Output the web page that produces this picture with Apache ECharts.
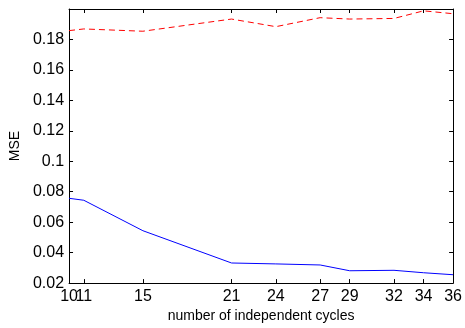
<!DOCTYPE html>
<html>
<head>
<meta charset="utf-8">
<script src="https://cdn.jsdelivr.net/npm/echarts@6/dist/echarts.min.js"></script>
<style>
  html, body { margin: 0; padding: 0; background: #fff; }
  #chart { width: 465px; height: 328px; }
</style>
</head>
<body>
<div id="chart"></div>
<script>
// values
const cycles = [10, 11, 15, 21, 24, 27, 29, 32, 34, 36];
const mseRed = [0.1858, 0.1869, 0.1854, 0.1934, 0.1884, 0.1943, 0.1934, 0.1938, 0.1988, 0.1969];
const mseBlue = [0.0757, 0.0744, 0.0544, 0.0332, 0.0326, 0.0319, 0.0281, 0.0284, 0.0268, 0.0255];
const yTicks = [0.02, 0.04, 0.06, 0.08, 0.1, 0.12, 0.14, 0.16, 0.18];

const font = 'Liberation Sans, Arial, sans-serif';
const chart = echarts.init(document.getElementById('chart'));

const pairs = vals => cycles.map((c, i) => [c, vals[i]]);

const axisLine = { show: true, lineStyle: { color: '#000', width: 1 } };
const labelStyle = { color: '#000', fontSize: 16, fontFamily: font, margin: 5 };

// echarts drops a label that overlaps the min label, so "11" goes on its own axis
const mainLabels = cycles.filter(c => c !== 11);
const extraLabels = [11];

chart.setOption({
    animation: false,
    grid: { left: 67, right: 9, top: 9, bottom: 40 },
    xAxis: [{
        type: 'value',
        min: 10,
        max: 36,
        name: 'number of independent cycles',
        nameLocation: 'middle',
        nameGap: 24,
        nameTextStyle: { color: '#000', fontSize: 14, fontFamily: font },
        axisLine: axisLine,
        axisTick: { show: true, inside: true, length: 4, customValues: cycles, lineStyle: { color: '#000' } },
        axisLabel: { ...labelStyle, customValues: mainLabels },
        splitLine: { show: false }
    }, {
        type: 'value',
        position: 'top',
        min: 10,
        max: 36,
        axisLine: axisLine,
        axisTick: { show: true, inside: true, length: 4, customValues: cycles, lineStyle: { color: '#000' } },
        axisLabel: { show: false },
        splitLine: { show: false }
    }, {
        type: 'value',
        position: 'bottom',
        min: 10,
        max: 36,
        axisLine: { show: false },
        axisTick: { show: false },
        axisLabel: { ...labelStyle, customValues: extraLabels, showMinLabel: true, showMaxLabel: true },
        splitLine: { show: false }
    }],
    yAxis: [{
        type: 'value',
        min: 0.02,
        max: 0.2,
        name: 'MSE',
        nameLocation: 'middle',
        nameGap: 46,
        nameTextStyle: { color: '#000', fontSize: 14, fontFamily: font },
        axisLine: axisLine,
        axisTick: { show: true, inside: true, length: 4, customValues: yTicks, lineStyle: { color: '#000' } },
        axisLabel: {
            ...labelStyle,
            customValues: yTicks,
            formatter: v => String(+v.toFixed(2))
        },
        splitLine: { show: false }
    }, {
        type: 'value',
        position: 'right',
        min: 0.02,
        max: 0.2,
        axisLine: axisLine,
        axisTick: { show: true, inside: true, length: 4, customValues: yTicks, lineStyle: { color: '#000' } },
        axisLabel: { show: false },
        splitLine: { show: false }
    }],
    series: [{
        type: 'line',
        data: pairs(mseRed),
        symbol: 'none',
        lineStyle: { color: '#ff0000', width: 1, type: [6, 4] }
    }, {
        type: 'line',
        data: pairs(mseBlue),
        symbol: 'none',
        lineStyle: { color: '#0000ff', width: 1 }
    }]
});
</script>
</body>
</html>
